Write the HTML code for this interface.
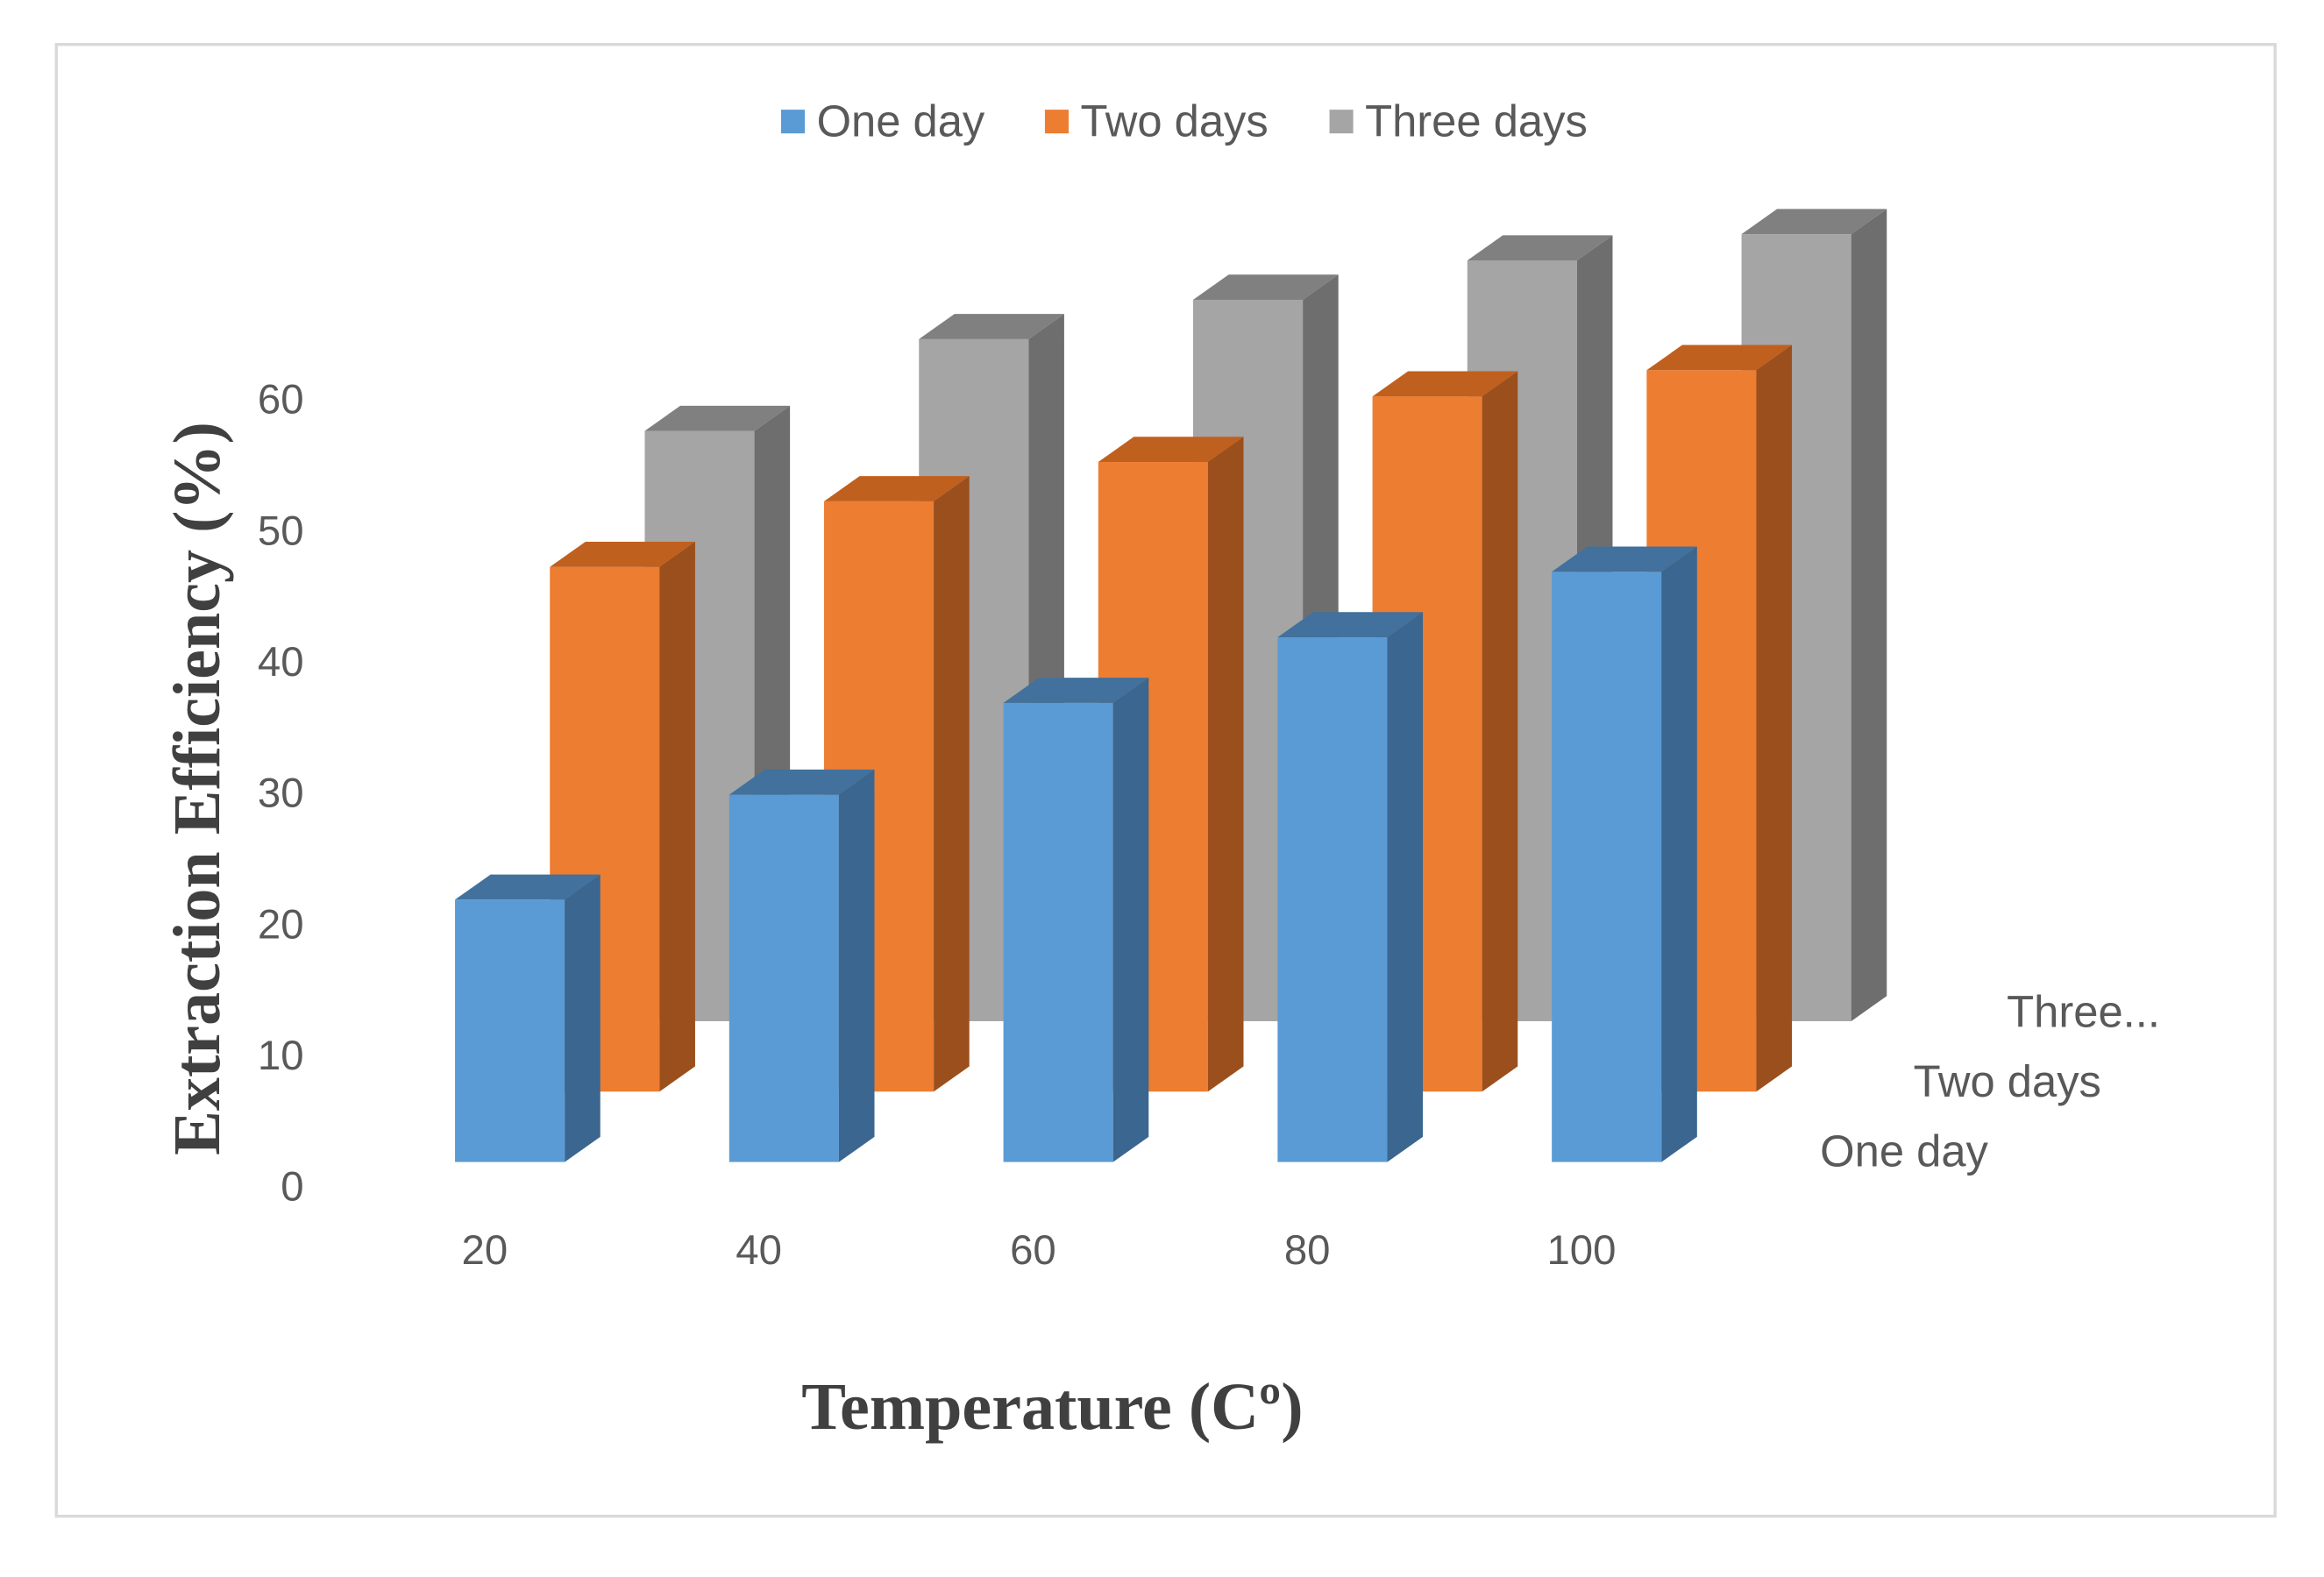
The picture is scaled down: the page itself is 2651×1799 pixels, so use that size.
<!DOCTYPE html>
<html><head><meta charset="utf-8"><style>
html,body{margin:0;padding:0;background:#fff;}
svg{display:block;}
text{font-family:"Liberation Sans",sans-serif;}
</style></head><body>
<svg id="chart" width="2651" height="1799" viewBox="0 0 1568 1064" preserveAspectRatio="none" xmlns="http://www.w3.org/2000/svg">
<rect x="38" y="30" width="1497" height="993" fill="#fff" stroke="#d9d9d9" stroke-width="2"/>
<g>
<rect x="527" y="74" width="16" height="16" fill="#5B9BD5"/>
<text x="551" y="92" font-size="30" fill="#595959">One day</text>
<rect x="705" y="74" width="16" height="16" fill="#ED7D31"/>
<text x="729" y="92" font-size="30" fill="#595959">Two days</text>
<rect x="897" y="74" width="16" height="16" fill="#A5A5A5"/>
<text x="921" y="92" font-size="30" fill="#595959">Three days</text>
</g>
<g id="bars"></g>
<g id="yticks"></g>
<g id="xticks"></g>
<g id="zticks"></g>
<text transform="translate(148,532) rotate(-90)" text-anchor="middle" font-weight="bold" font-size="45" fill="#404040" style="font-family:'Liberation Serif',serif">Extraction Efficiency (%)</text>
<text x="710" y="964" text-anchor="middle" font-weight="bold" font-size="45" fill="#404040" style="font-family:'Liberation Serif',serif">Temperature (Cº)</text>
</svg>
<script>
const categories = ["20","40","60","80","100"];
const seriesNames = ["One day","Two days","Three days"];
const depthLabels = ["One day","Two days","Three..."];
const oneDay = [20, 28, 35, 40, 45];
const twoDays = [40, 45, 48, 53, 55];
const threeDays = [45, 52, 55, 58, 60];
const yTicks = [0,10,20,30,40,50,60];

const NS="http://www.w3.org/2000/svg";
const series=[oneDay,twoDays,threeDays];
const colors=[["#5B9BD5","#3A6690","#41719C"],["#ED7D31","#9A4F1D","#C0601F"],["#A5A5A5","#6E6E6E","#808080"]];
const pxPerUnit=8.85;
function yLen(v){return v*pxPerUnit;}
function xPos(i,row){return 307+i*185+row*64;}
function baseY(row){return 784-row*47.5;}
const W=74,DX=24,DY=17;
function el(tag,attrs,parent){const e=document.createElementNS(NS,tag);for(const k in attrs)e.setAttribute(k,attrs[k]);parent.appendChild(e);return e;}
const bars=document.getElementById('bars');
for(let r=2;r>=0;r--){
  for(let i=0;i<categories.length;i++){
    const v=series[r][i],x=xPos(i,r),b=baseY(r),t=b-yLen(v);
    const g=el('g',{},bars);
    
    
    el('rect',{x:x,y:t,width:W,height:b-t,fill:colors[r][0]},g);
    el('polygon',{points:`${x+W},${t} ${x+W+DX},${t-DY} ${x+W+DX},${b-DY} ${x+W},${b}`,fill:colors[r][1]},g);
    el('polygon',{points:`${x},${t} ${x+DX},${t-DY} ${x+W+DX},${t-DY} ${x+W},${t}`,fill:colors[r][2]},g);
  }
}
const yt=document.getElementById('yticks');
yTicks.forEach(v=>{
  const t=el('text',{x:205,y:800-yLen(v)+10,'text-anchor':'end','font-size':28,fill:'#595959'},yt);
  
  
  t.textContent=v;
});
const xt=document.getElementById('xticks');
categories.forEach((c,i)=>{
  const t=el('text',{x:xPos(i,0)+20,y:853,'text-anchor':'middle','font-size':28,fill:'#595959'},xt);
  
  
  t.textContent=c;
});
const zt=document.getElementById('zticks');
depthLabels.forEach((c,r)=>{
  const t=el('text',{x:1228+r*63,y:787-r*47,'font-size':30,fill:'#595959'},zt);
  
  
  t.textContent=c;
});
</script>
</body></html>
